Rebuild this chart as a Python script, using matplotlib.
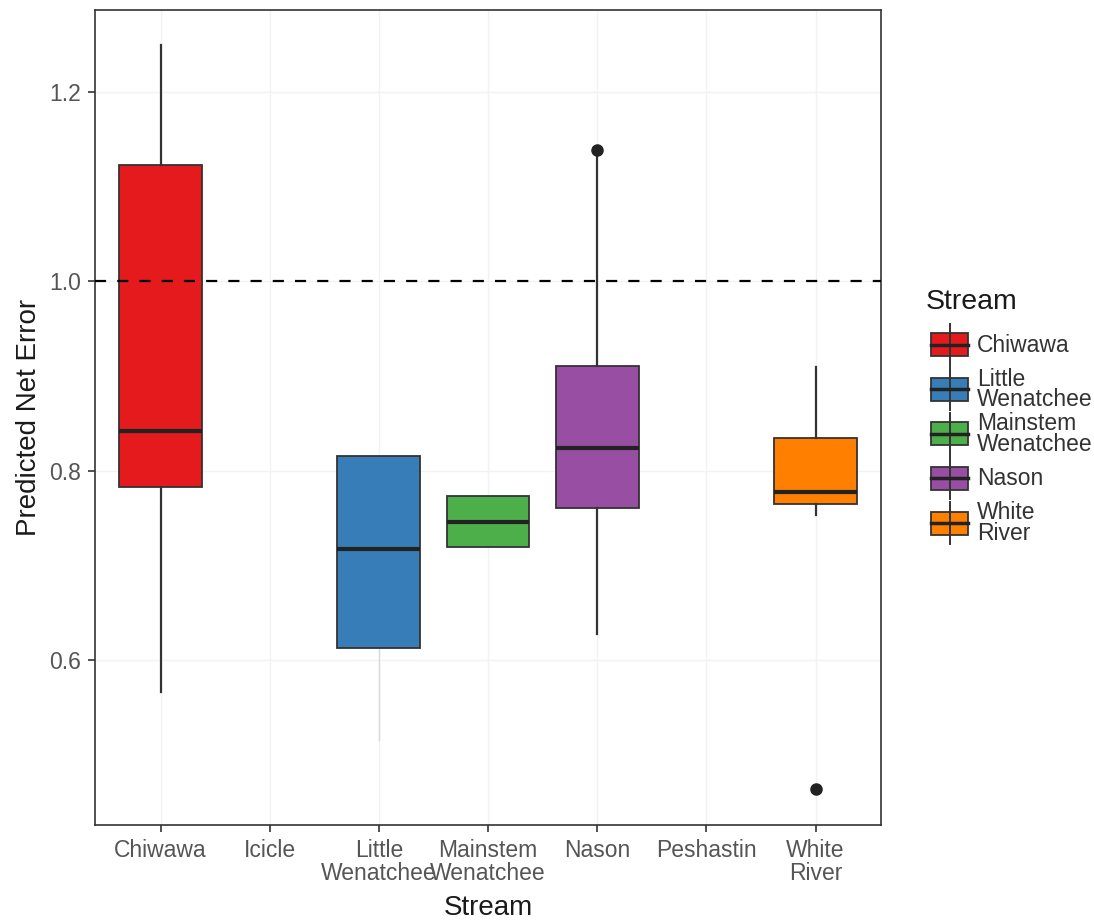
import matplotlib
matplotlib.use("Agg")
import matplotlib.pyplot as plt
from matplotlib.patches import Rectangle
from matplotlib.lines import Line2D

plt.rcParams["font.family"] = ["Liberation Sans", "DejaVu Sans"]

# categories on the x axis (Icicle and Peshastin have no data)
categories = ["Chiwawa", "Icicle", "Little\nWenatchee", "Mainstem\nWenatchee",
              "Nason", "Peshastin", "White\nRiver"]

# box statistics
streams = ["Chiwawa", "Little Wenatchee", "Mainstem Wenatchee", "Nason", "White River"]
stream_pos = [1, 3, 4, 5, 7]
colors = ["#E41A1C", "#377EB8", "#4DAF4A", "#984EA3", "#FF7F00"]
whislo = [0.566, 0.613, 0.719, 0.628, 0.753]
q1 = [0.783, 0.613, 0.719, 0.760, 0.765]
med = [0.842, 0.717, 0.746, 0.824, 0.777]
q3 = [1.122, 0.815, 0.773, 0.910, 0.834]
whishi = [1.249, 0.815, 0.773, 1.136, 0.909]
fliers = [[], [], [], [1.138], [0.464]]
# faint extra whisker tail visible under Little Wenatchee
faint_tail = {3: (0.613, 0.516)}

legend_labels = ["Chiwawa", "Little\nWenatchee", "Mainstem\nWenatchee", "Nason", "White\nRiver"]

W, H = 1094, 921
fig = plt.figure(figsize=(W / 100, H / 100), dpi=100)
ax = fig.add_axes([95 / W, 1 - 825 / H, (881 - 95) / W, (825 - 10) / H])

edge = "#333333"
ax.grid(True, color="#f2f2f2", lw=1)
ax.set_axisbelow(True)

for x, tail in faint_tail.items():
    ax.plot([x, x], tail, color="#d9d9d9", lw=1, zorder=1)

stats = []
for i in range(len(streams)):
    stats.append(dict(med=med[i], q1=q1[i], q3=q3[i], whislo=whislo[i],
                      whishi=whishi[i], fliers=fliers[i]))

for i, st in enumerate(stats):
    ax.bxp([st], positions=[stream_pos[i]], widths=0.76, patch_artist=True,
           showcaps=False,
           boxprops=dict(facecolor=colors[i], edgecolor=edge, linewidth=1.3),
           medianprops=dict(color="#222222", linewidth=3),
           whiskerprops=dict(color=edge, linewidth=1.6),
           flierprops=dict(marker="o", markerfacecolor="#222222",
                           markeredgecolor="#222222", markersize=8),
           zorder=3)

ax.axhline(1.0, color="black", lw=1.6, ls=(0, (5, 5)), zorder=4)

ax.set_xlim(0.4, 7.6)
ax.set_ylim(0.426, 1.286)
ax.set_xticks(range(1, len(categories) + 1))
ax.set_xticklabels(categories, linespacing=1.0)
ax.set_yticks([0.6, 0.8, 1.0, 1.2])
ax.set_yticklabels(["0.6", "0.8", "1.0", "1.2"])
ax.tick_params(axis="both", colors="#333333", labelcolor="#555555",
               labelsize=16.5, length=5, width=1.2, pad=5)
for s in ax.spines.values():
    s.set_color("#333333")
    s.set_linewidth(1.2)

ax.set_xlabel("Stream", fontsize=20, color="#1a1a1a", labelpad=7)
ax.set_ylabel("Predicted Net Error", fontsize=20, color="#1a1a1a", labelpad=5)

# legend drawn by hand in figure pixel coordinates
def fx(px):
    return px / W

def fy(py):
    return 1 - py / H

fig.text(fx(926), fy(302), "Stream", fontsize=20.5, color="#1a1a1a",
         ha="left", va="center")
for i, lab in enumerate(legend_labels):
    cy = 345 + i * 44.5
    fig.add_artist(Line2D([fx(949.5), fx(949.5)], [fy(cy - 21), fy(cy + 21)],
                          color=edge, lw=1.4))
    fig.add_artist(Rectangle((fx(931), fy(cy + 11.5)), 37 / W, 23 / H,
                             facecolor=colors[i], edgecolor=edge, lw=1.3,
                             transform=fig.transFigure))
    fig.add_artist(Line2D([fx(931), fx(968)], [fy(cy), fy(cy)],
                          color="#222222", lw=2.5))
    fig.text(fx(977), fy(cy), lab, fontsize=16.5, color="#333333",
             ha="left", va="center", linespacing=0.88)

fig.savefig("out.png", dpi=100)
